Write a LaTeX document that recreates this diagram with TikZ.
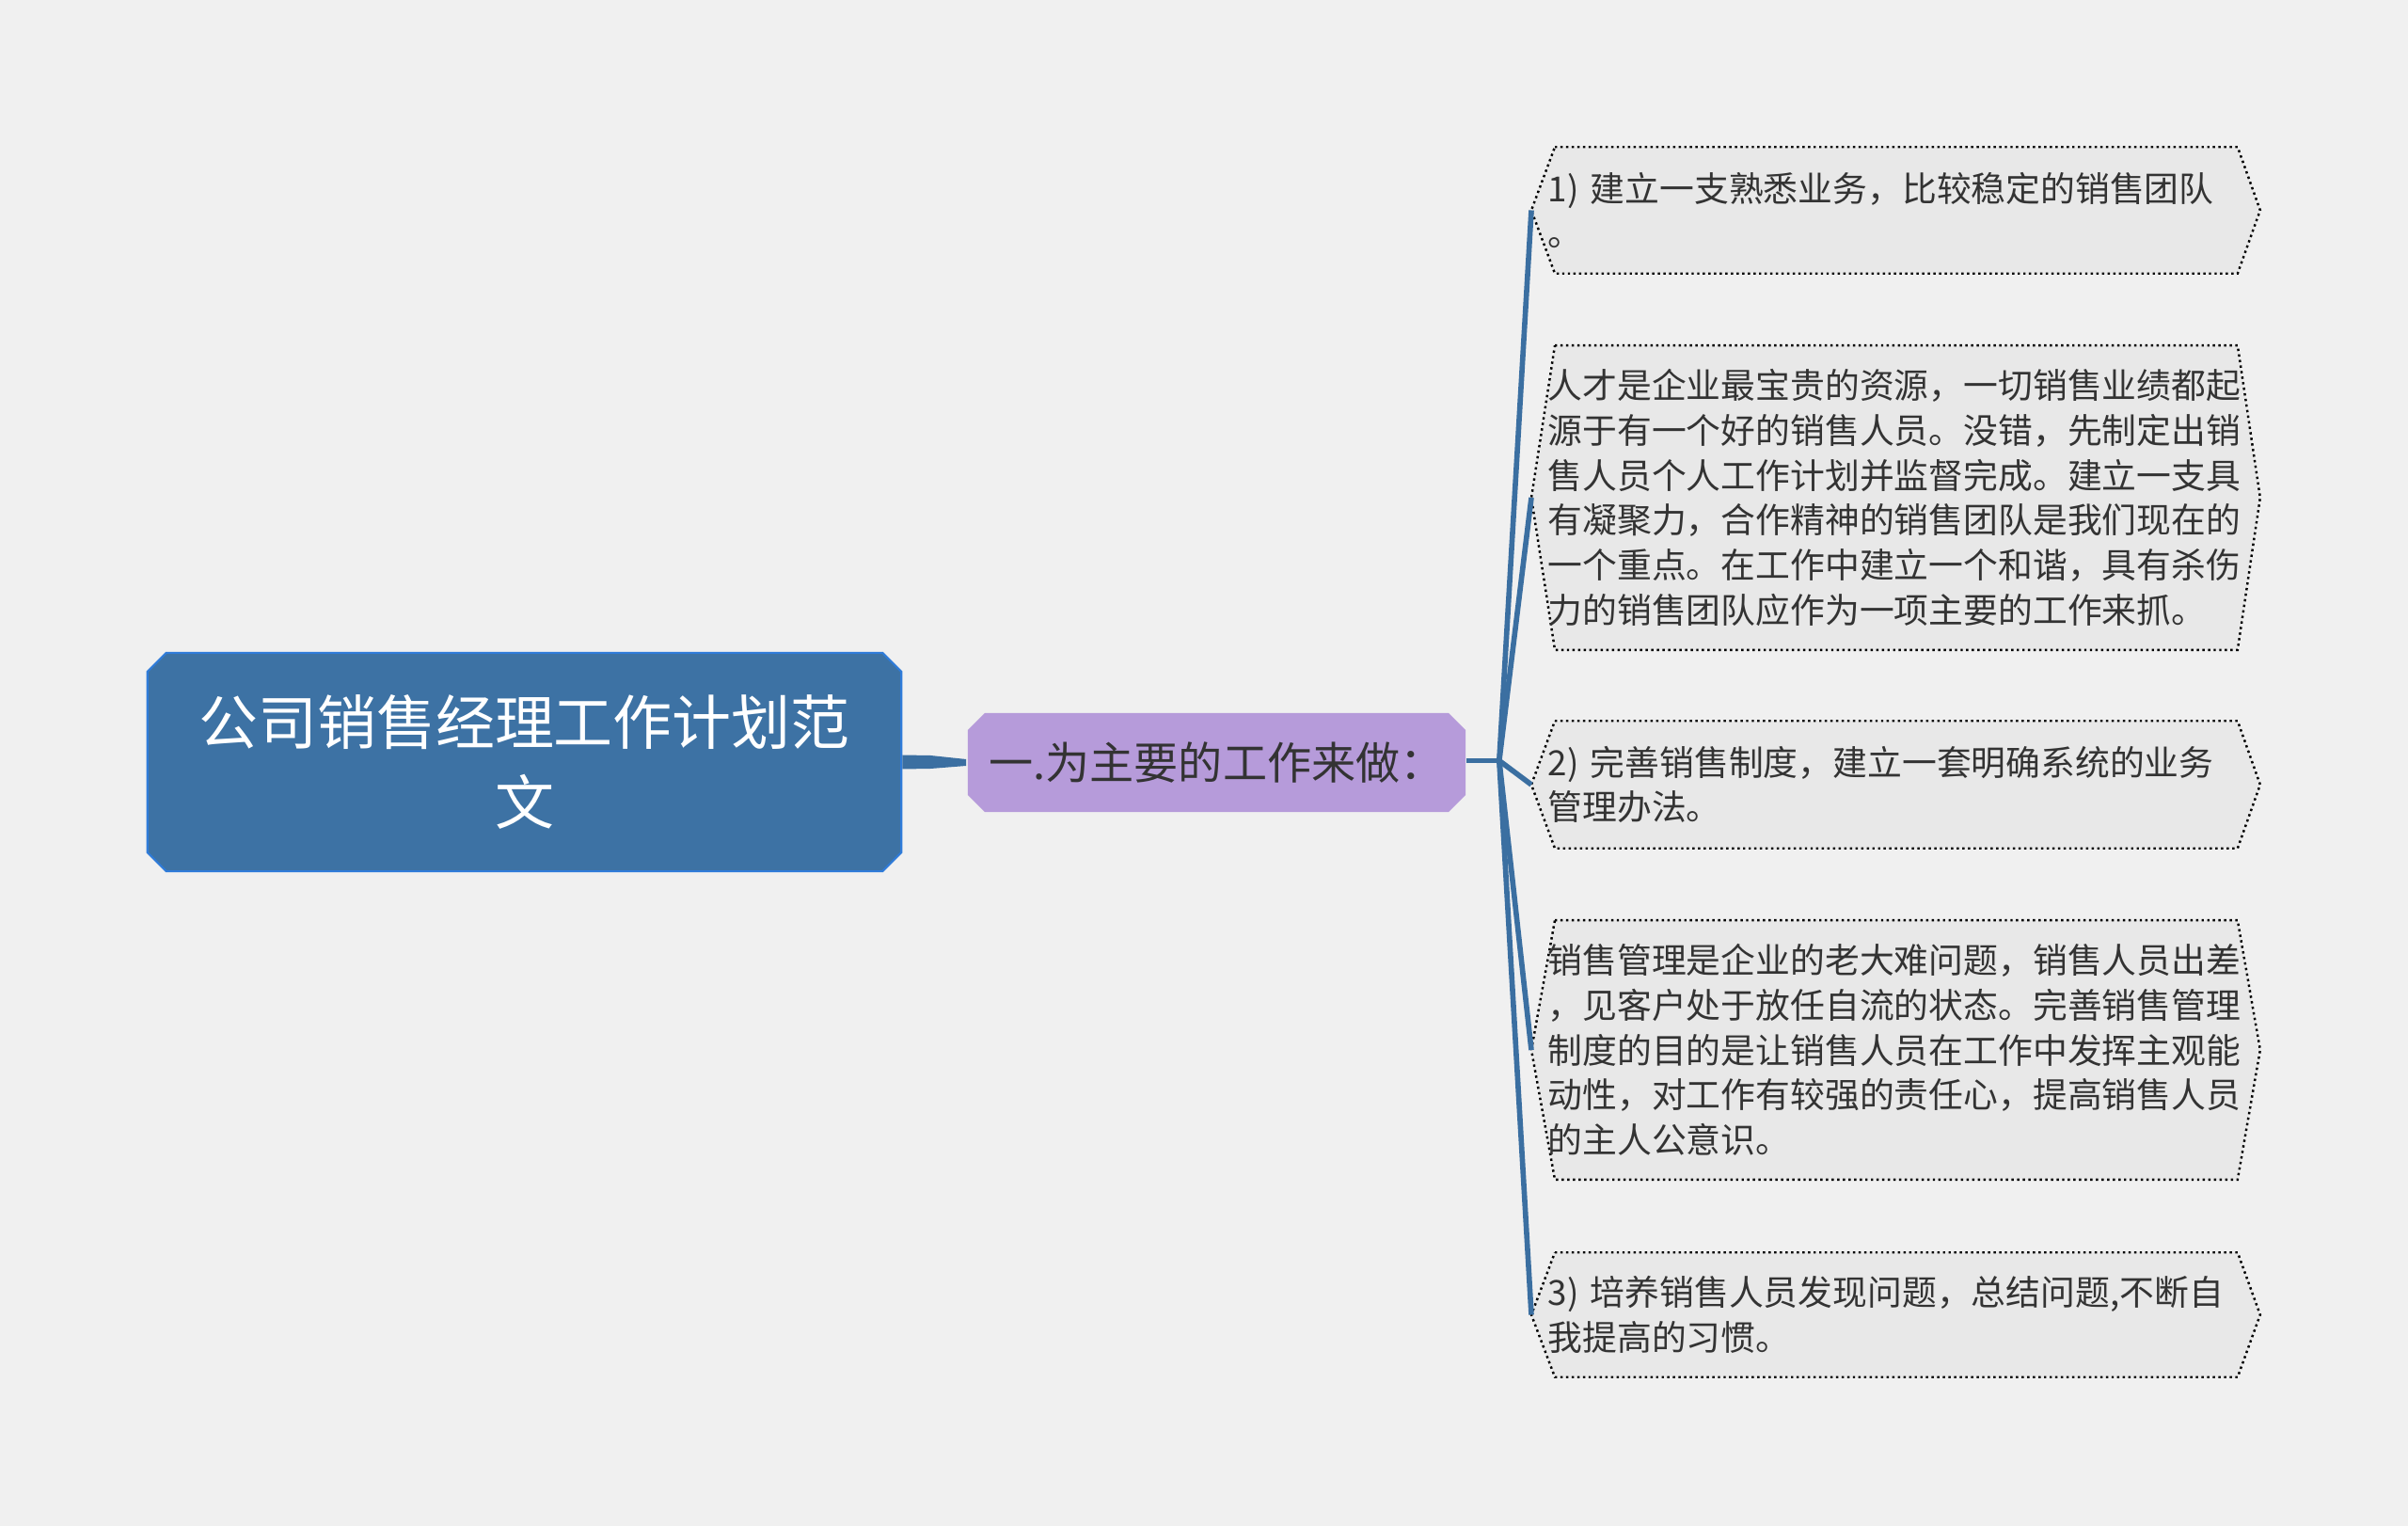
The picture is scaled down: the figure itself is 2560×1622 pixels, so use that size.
\documentclass[tikz,border=0pt]{standalone}
\usepackage{fontspec}
\setmainfont{Noto Sans CJK SC}
\usetikzlibrary{calc,shapes.misc,backgrounds}
\definecolor{bgcol}{RGB}{240,240,240}
\definecolor{rootcol}{RGB}{61,114,164}
\definecolor{rootline}{RGB}{47,123,217}
\definecolor{subcol}{RGB}{182,155,218}
\definecolor{leafcol}{RGB}{232,232,232}
\definecolor{txtcol}{RGB}{51,51,51}
\definecolor{linkcol}{RGB}{59,111,161}
\tikzset{
  rootbox/.style={chamfered rectangle,chamfered rectangle xsep=0.1cm,chamfered rectangle ysep=0.1cm,
    fill=rootcol,draw=rootline,line width=0.6pt,minimum width=8.01cm,minimum height=2.32cm,
    inner sep=0,text=white,align=center,font=\fontsize{17.9}{24.2}\selectfont},
  subbox/.style={chamfered rectangle,chamfered rectangle xsep=0.09cm,chamfered rectangle ysep=0.09cm,
    fill=subcol,minimum width=5.29cm,minimum height=1.05cm,inner sep=0,
    text=txtcol,font=\fontsize{13.4}{16}\selectfont},
  leaf/.style={anchor=west,text width=7.4cm,align=left,inner xsep=0,inner ysep=0.18cm,
    text=txtcol,font=\fontsize{10.47}{13.57}\selectfont},
  leafedge/.style={draw=black,densely dotted,line width=0.7pt,fill=leafcol},
  link/.style={draw=linkcol,line width=1.6pt}
}
\begin{document}
\begin{tikzpicture}[x=0.01cm,y=-0.01cm]
\begin{scope}[on background layer]
\fill[bgcol](0,0)rectangle(2560,1622);
\end{scope}
%root and first branch
\node[rootbox](root)at(557.5,810){公司销售经理工作计划范\\文};
\node[subbox](sub)at(1293.5,810.5){一.为主要的工作来做：};
\fill[linkcol]($(root.east)+(0,-7.5)$)--($(root.east)+(30,-7)$)--($(sub.west)+(-1,-3.5)$)
--($(sub.west)+(-1,3.5)$)--($(root.east)+(30,7)$)--($(root.east)+(0,7.5)$)--cycle;
%leaves
\node[leaf,minimum height=1.33cm](l1)at(1645,223.5){1) 建立一支熟悉业务，比较稳定的销售团队\\。};
\node[leaf,minimum height=3.22cm](l2)at(1645,529){人才是企业最宝贵的资源，一切销售业绩都起\\
源于有一个好的销售人员。没错，先制定出销\\售人员个人工作计划并监督完成。建立一支具\\
有凝聚力，合作精神的销售团队是我们现在的\\一个重点。在工作中建立一个和谐，具有杀伤\\
力的销售团队应作为一项主要的工作来抓。};
\node[leaf,minimum height=1.34cm](l3)at(1645,834){2) 完善销售制度，建立一套明确系统的业务\\管理办法。};
\node[leaf,minimum height=2.74cm](l4)at(1645,1116){销售管理是企业的老大难问题，销售人员出差\\
，见客户处于放任自流的状态。完善销售管理\\制度的目的是让销售人员在工作中发挥主观能\\
动性，对工作有较强的责任心，提高销售人员\\的主人公意识。};
\node[leaf,minimum height=1.31cm](l5)at(1645,1397.5){3) 培养销售人员发现问题，总结问题,不断自\\我提高的习惯。};
\begin{scope}[on background layer]
\foreach \n in {l1,l2,l3,l4,l5}{
\draw[leafedge]($(\n.north west)+(8,0)$)--($(\n.north east)+(-8,0)$)--($(\n.east)+(16,0)$)
--($(\n.south east)+(-8,0)$)--($(\n.south west)+(8,0)$)--($(\n.west)+(-17,0)$)--cycle;
}
\end{scope}
%connectors
\coordinate(j)at($(sub.east)+(35,-2)$);
\draw[link](sub.east|-j)--(j);
\foreach \n in {l1,l2,l3,l4,l5}{
\coordinate(\n p)at($(\n.west)+(-17,0)$);
\draw[link](j)--(\n p);
}
\end{tikzpicture}
\end{document}
